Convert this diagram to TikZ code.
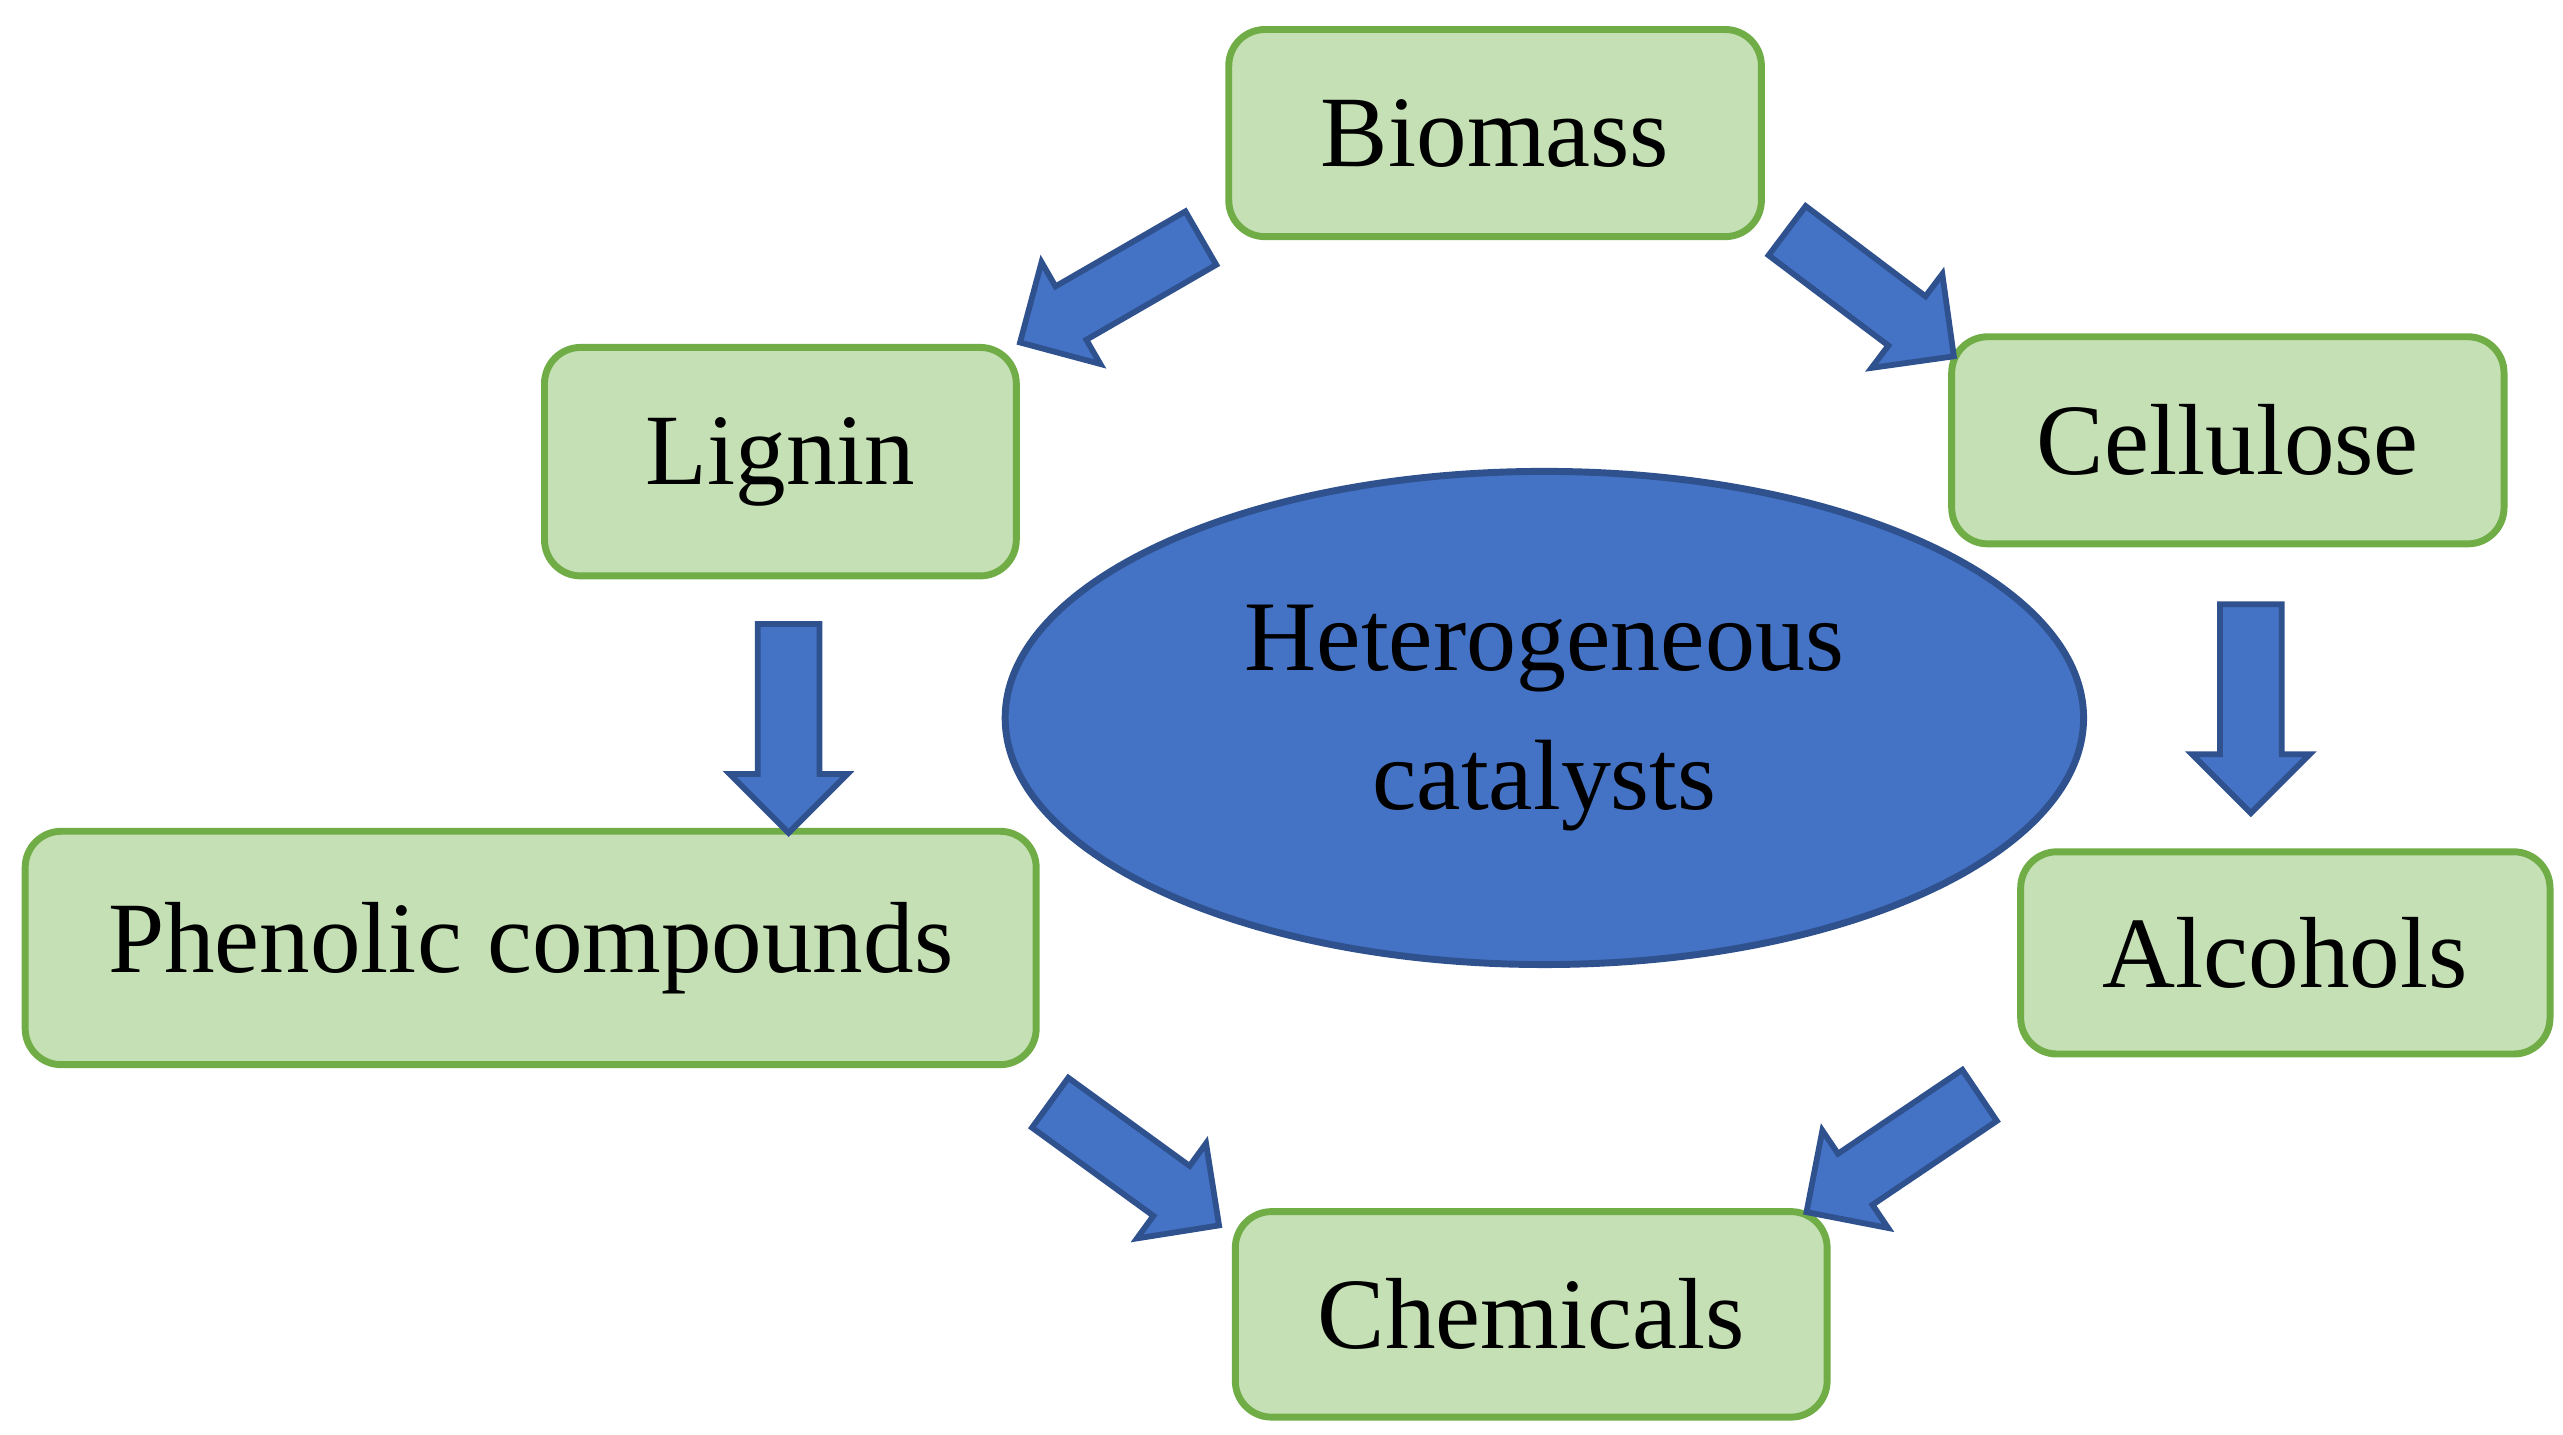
\documentclass[tikz,border=0pt]{standalone}
\usepackage{fontspec}
\setmainfont{Liberation Serif}
\usetikzlibrary{shapes.geometric,shapes.arrows}
\definecolor{boxgreen}{RGB}{197,224,180}
\definecolor{boxedge}{RGB}{112,173,71}
\definecolor{catblue}{RGB}{68,114,196}
\definecolor{catedge}{RGB}{47,82,143}
\tikzset{
  stage/.style={draw=boxedge,line width=1.2pt,fill=boxgreen,rounded corners=0.22cm,
    font=\fontsize{17.5}{21}\selectfont,inner sep=0pt},
  flow/.style={single arrow,draw=catedge,line width=1pt,fill=catblue,
    text height=0pt,text depth=0pt,inner xsep=0pt,inner ysep=0.17cm,
    minimum height=1.27cm,single arrow head extend=0.17cm,
    single arrow head indent=0pt}
}
\begin{document}
\begin{tikzpicture}[x=0.01cm,y=-0.01cm]
    \useasboundingbox (0,0) rectangle (1560,873);
    % centre
    \node[ellipse,draw=catedge,line width=1.2pt,fill=catblue,minimum width=6.56cm,minimum height=3.0cm,
      align=center,font=\fontsize{17.3}{24}\selectfont] (cat) at (940,437) {Heterogeneous\\catalysts};

    % stages
    \node[stage,minimum width=3.24cm,minimum height=1.26cm] (biomass) at (910,81) {Biomass};
    \node[stage,minimum width=2.87cm,minimum height=1.39cm] (lignin) at (475,281) {Lignin};
    \node[stage,minimum width=3.36cm,minimum height=1.26cm] (cellulose) at (1356,268) {Cellulose};
    \node[stage,minimum width=6.15cm,minimum height=1.42cm] (phenolic) at (323,577) {Phenolic compounds};
    \node[stage,minimum width=3.22cm,minimum height=1.23cm] (alcohols) at (1391,580) {Alcohols};
    \node[stage,minimum width=3.60cm,minimum height=1.25cm] (chemicals) at (932,800) {Chemicals};

    % block arrows
    \node[flow,rotate=210] (a1) at (684,172) {};
    \node[flow,rotate=-37] (a2) at (1131,173) {};
    \node[flow,rotate=-90] (a3) at (480,434) {};
    \node[flow,rotate=-90] (a4) at (1370,422) {};
    \node[flow,rotate=-36] (a5) at (683,703) {};
    \node[flow,rotate=214] (a6) at (1160,697) {};
\end{tikzpicture}
\end{document}
